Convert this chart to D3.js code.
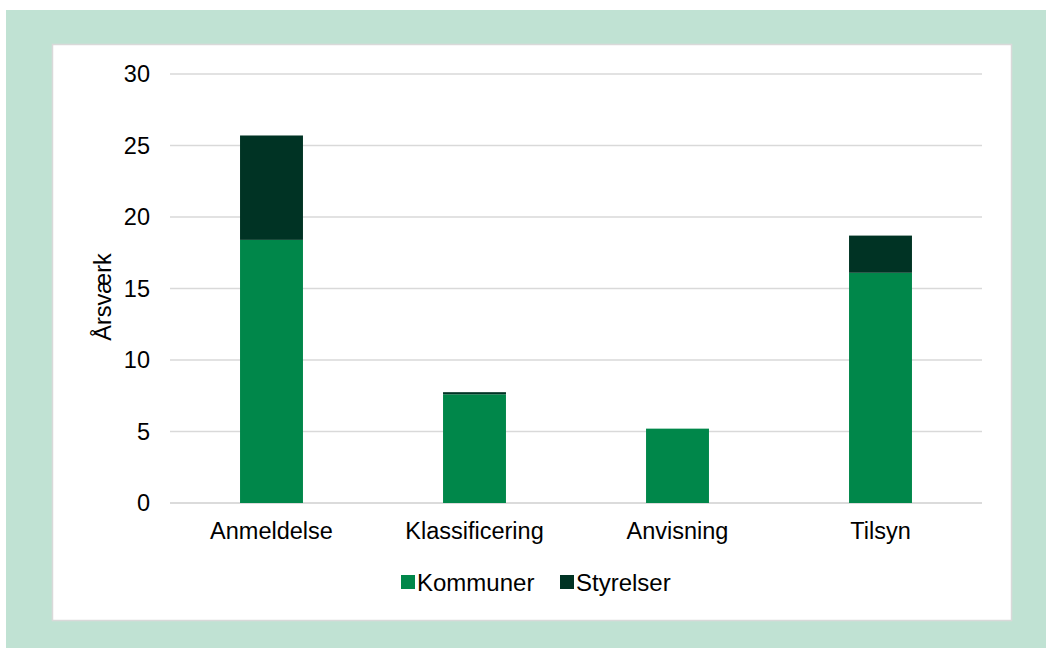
<!DOCTYPE html>
<html>
<head>
<meta charset="utf-8">
<script src="https://cdn.jsdelivr.net/npm/d3@7"></script>
<style>
  body { margin: 0; background: #fff; }
  text { font-family: "Liberation Sans", Arial, sans-serif; fill: #000; }
</style>
</head>
<body>
<div id="chart"></div>
<script>
// data
var categories = ['Anmeldelse', 'Klassificering', 'Anvisning', 'Tilsyn'];
var seriesNames = ['Kommuner', 'Styrelser'];
var kommuner = [18.4, 7.6, 5.2, 16.1];
var styrelser = [7.3, 0.15, 0, 2.6];
var yTicks = [0, 5, 10, 15, 20, 25, 30];
var colors = ['#00874a', '#003324'];

var W = 1046, H = 648;
var FS = '23.5px';
var svg = d3.select('#chart').append('svg').attr('width', W).attr('height', H);

// outer frame + white panel
svg.append('rect').attr('x', 6).attr('y', 10).attr('width', W - 6).attr('height', H - 10).attr('fill', '#c0e2d3');
svg.append('rect').attr('x', 52.5).attr('y', 44.5).attr('width', 959).attr('height', 576)
  .attr('fill', '#fff').attr('stroke', '#d9d9d9').attr('stroke-width', 1.5);

var x = d3.scaleBand().domain(categories).range([170, 982]).paddingInner(0.69).paddingOuter(0.345);
var y = d3.scaleLinear().domain([0, 30]).range([503, 74]);

// gridlines
svg.append('g').selectAll('line').data(yTicks).enter().append('line')
  .attr('x1', 170).attr('x2', 982)
  .attr('y1', function (d) { return y(d); }).attr('y2', function (d) { return y(d); })
  .attr('stroke', '#d9d9d9').attr('stroke-width', 1.5);

// y axis labels
var yAxis = svg.append('g').attr('transform', 'translate(170,0)')
  .call(d3.axisLeft(y).tickValues(yTicks).tickSize(0).tickPadding(20));
yAxis.select('.domain').remove();
yAxis.selectAll('text').style('font-size', FS).style('font-family', '"Liberation Sans", Arial, sans-serif').attr('fill', '#000');

// x axis labels
var xAxis = svg.append('g').attr('transform', 'translate(0,503)')
  .call(d3.axisBottom(x).tickSize(0).tickPadding(19));
xAxis.select('.domain').attr('stroke', '#d9d9d9').attr('stroke-width', 1.5).attr('d', 'M170,0H982');
xAxis.selectAll('text').style('font-size', FS).style('font-family', '"Liberation Sans", Arial, sans-serif').attr('fill', '#000');

// stacked bars
var table = categories.map(function (c, i) {
  return { cat: c, Kommuner: kommuner[i], Styrelser: styrelser[i] };
});
var stack = d3.stack().keys(seriesNames)(table);
svg.append('g').selectAll('g').data(stack).enter().append('g')
  .attr('fill', function (d, i) { return colors[i]; })
  .selectAll('rect').data(function (d) { return d; }).enter().append('rect')
  .attr('x', function (d) { return x(d.data.cat); })
  .attr('width', x.bandwidth())
  .attr('y', function (d) { return y(d[1]); })
  .attr('height', function (d) { return y(d[0]) - y(d[1]); });

// y title
svg.append('text')
  .attr('transform', 'translate(111,297) rotate(-90)')
  .attr('text-anchor', 'middle')
  .style('font-size', FS)
  .text('Årsværk');

// legend
var legendX = [401, 560];
var lg = svg.append('g').selectAll('g').data(seriesNames).enter().append('g')
  .attr('transform', function (d, i) { return 'translate(' + legendX[i] + ',575)'; });
lg.append('rect').attr('width', 14).attr('height', 14).attr('fill', function (d, i) { return colors[i]; });
lg.append('text').attr('x', 16).attr('y', 16).style('font-size', '24px').text(function (d) { return d; });
</script>
</body>
</html>
